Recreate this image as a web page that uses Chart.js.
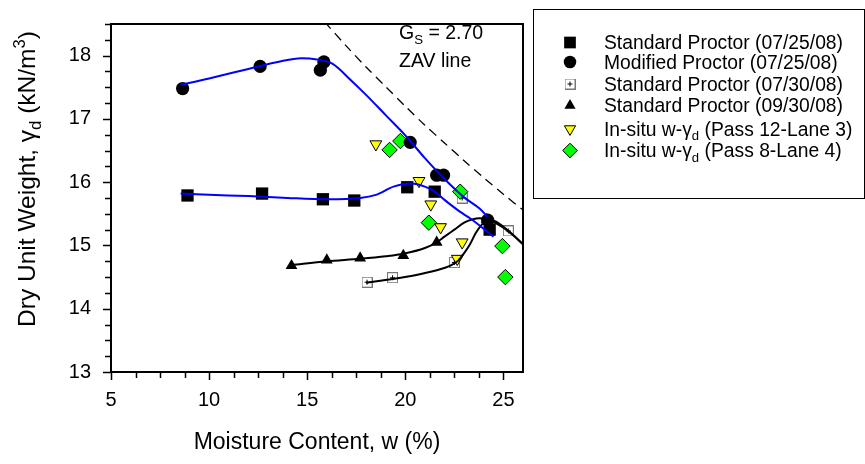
<!DOCTYPE html>
<html>
<head>
<meta charset="utf-8">
<title>Compaction curves</title>
<script src="https://cdn.jsdelivr.net/npm/chart.js@4.4.0/dist/chart.umd.min.js"></script>
<style>
  html, body { margin: 0; padding: 0; background: #fff; }
</style>
</head>
<body>
<canvas id="proctor-chart" width="865" height="464"></canvas>
<script>
// Moisture content w (%) and dry unit weight (kN/m3) for each test
const wStd0725 = [8.9, 12.7, 15.8, 17.4, 20.1, 21.5, 24.3];
const gStd0725 = [15.79, 15.82, 15.73, 15.71, 15.92, 15.85, 15.25];
const wMod0725 = [8.65, 12.6, 15.67, 15.85, 20.25, 21.6, 21.95, 24.2];
const gMod0725 = [17.48, 17.83, 17.77, 17.9, 16.63, 16.11, 16.11, 15.4];
const wStd0730 = [18.05, 19.35, 22.5, 22.9, 25.25];
const gStd0730 = [14.42, 14.49, 14.73, 15.75, 15.23];
const wStd0930 = [14.2, 16.0, 17.7, 19.9, 21.6, 24.15];
const gStd0930 = [14.68, 14.77, 14.8, 14.84, 15.05, 15.41];
const wPass12 = [18.5, 20.7, 21.3, 21.8, 22.9, 22.65];
const gPass12 = [16.6, 16.02, 15.65, 15.29, 15.05, 14.79];
const wPass8 = [19.2, 19.75, 21.2, 22.8, 24.95, 25.1];
const gPass8 = [16.51, 16.65, 15.36, 15.85, 14.99, 14.5];

// Fitted compaction curves
const wFitStd0725 = [8.55, 10, 12, 14, 16, 17.7, 18.5, 19.4, 20.3, 21, 21.5, 22, 22.8, 23.3, 24.5];
const gFitStd0725 = [15.82, 15.8, 15.78, 15.75, 15.73, 15.75, 15.8, 15.93, 15.98, 15.93, 15.85, 15.72, 15.53, 15.43, 15.14];
const wFitMod0725 = [8.55, 10, 12, 13.5, 14.7, 15.5, 16.3, 17.2, 18, 19, 20, 21, 22, 23, 23.8, 24.2];
const gFitMod0725 = [17.54, 17.64, 17.79, 17.9, 17.96, 17.94, 17.87, 17.62, 17.38, 17.06, 16.74, 16.38, 16.05, 15.76, 15.58, 15.45];
const wFitStd0730 = [18.0, 19.35, 20.5, 21.5, 22.3, 22.7, 23.0, 23.3, 23.6, 23.9, 24.2, 24.6, 25.3, 26];
const gFitStd0730 = [14.41, 14.47, 14.53, 14.6, 14.68, 14.76, 14.88, 15.02, 15.2, 15.33, 15.41, 15.38, 15.22, 15.02];
const wFitStd0930 = [14.2, 16, 17.7, 19, 19.9, 21, 21.6, 22, 22.5, 23, 23.4, 23.8, 24.5, 25, 25.5, 26];
const gFitStd0930 = [14.69, 14.75, 14.79, 14.83, 14.87, 14.96, 15.05, 15.14, 15.25, 15.36, 15.41, 15.43, 15.37, 15.28, 15.16, 15.02];

// Zero air voids line, Gs = 2.70
const wZav = [15.9, 17, 18, 19, 20, 21, 22, 23, 24, 25, 26];
const gZav = [18.53, 18.15, 17.82, 17.51, 17.2, 16.9, 16.62, 16.34, 16.07, 15.81, 15.56];

// Axis ticks
const xTicks = [5, 6.25, 7.5, 8.75, 10, 11.25, 12.5, 13.75, 15, 16.25, 17.5, 18.75, 20, 21.25, 22.5, 23.75, 25];
const xLabelled = [5, 10, 15, 20, 25];
const yTicks = [13, 13.25, 13.5, 13.75, 14, 14.25, 14.5, 14.75, 15, 15.25, 15.5, 15.75, 16, 16.25, 16.5, 16.75, 17, 17.25, 17.5, 17.75, 18, 18.25, 18.5];
const yLabelled = [13, 14, 15, 16, 17, 18];

const FONT = "'Liberation Sans', Arial, sans-serif";

const toXY = (xs, ys) => xs.map((x, i) => ({ x: x, y: ys[i] }));

// white square with a small cross, used for the 07/30/08 test
function plusSquare(size) {
    const c = document.createElement('canvas');
    c.width = size;
    c.height = size;
    const g = c.getContext('2d');
    g.fillStyle = '#fff';
    g.fillRect(0, 0, size, size);
    g.strokeStyle = '#777';
    g.lineWidth = 1;
    g.strokeRect(0.5, 0.5, size - 1, size - 1);
    g.strokeStyle = '#000';
    const m = Math.floor(size / 2) + 0.5;
    g.beginPath();
    g.moveTo(m, 3); g.lineTo(m, size - 3);
    g.moveTo(3, m); g.lineTo(size - 3, m);
    g.stroke();
    return c;
}
const plusMark = plusSquare(11);

function markers(label, parts, xs, ys, style, order) {
    return Object.assign({
        type: 'scatter',
        label: label,
        legendParts: parts,
        data: toXY(xs, ys),
        showLine: false,
        order: order
    }, style);
}

function curve(xs, ys, color, order) {
    return {
        type: 'line',
        data: toXY(xs, ys),
        borderColor: color,
        borderWidth: 2,
        pointRadius: 0,
        fill: false,
        cubicInterpolationMode: 'monotone',
        order: order
    };
}

const datasets = [
    markers('Standard Proctor (07/25/08)', [{ t: 'Standard Proctor (07/25/08)' }], wStd0725, gStd0725,
        { pointStyle: 'rect', pointRadius: 8.7, backgroundColor: '#000', borderColor: '#000', borderWidth: 0 }, 5),
    markers('Modified Proctor (07/25/08)', [{ t: 'Modified Proctor (07/25/08)' }], wMod0725, gMod0725,
        { pointStyle: 'circle', pointRadius: 6.6, backgroundColor: '#000', borderColor: '#000', borderWidth: 0 }, 2),
    markers('Standard Proctor (07/30/08)', [{ t: 'Standard Proctor (07/30/08)' }], wStd0730, gStd0730,
        { pointStyle: plusMark, pointRadius: 6 }, 7),
    markers('Standard Proctor (09/30/08)', [{ t: 'Standard Proctor (09/30/08)' }], wStd0930, gStd0930,
        { pointStyle: 'triangle', pointRadius: 6.8, backgroundColor: '#000', borderColor: '#000', borderWidth: 0 }, 6),
    markers('In-situ w-γd (Pass 12-Lane 3)', [{ t: 'In-situ w-γ' }, { t: 'd', sub: true }, { t: ' (Pass 12-Lane 3)' }], wPass12, gPass12,
        { pointStyle: 'triangle', rotation: 180, pointRadius: 6.8, backgroundColor: '#ffff00', borderColor: '#000', borderWidth: 1 }, 3),
    markers('In-situ w-γd (Pass 8-Lane 4)', [{ t: 'In-situ w-γ' }, { t: 'd', sub: true }, { t: ' (Pass 8-Lane 4)' }], wPass8, gPass8,
        { pointStyle: 'rectRot', pointRadius: 7.7, backgroundColor: '#00ff00', borderColor: '#000', borderWidth: 1 }, 4),
    curve(wFitStd0725, gFitStd0725, '#0000ff', 1),
    curve(wFitMod0725, gFitMod0725, '#0000ff', 1),
    curve(wFitStd0730, gFitStd0730, '#000', 1),
    curve(wFitStd0930, gFitStd0930, '#000', 1),
    Object.assign(curve(wZav, gZav, '#000', 1), { borderWidth: 1.3, borderDash: [9, 6], cubicInterpolationMode: 'default', tension: 0.3 })
];

// text with sub/superscript pieces, y is the baseline
function richWidth(ctx, parts, size) {
    let w = 0;
    parts.forEach(p => {
        ctx.font = ((p.sub || p.sup) ? size * 0.68 : size) + 'px ' + FONT;
        w += ctx.measureText(p.t).width;
    });
    return w;
}
function drawRich(ctx, parts, x, y, size) {
    ctx.textAlign = 'left';
    ctx.textBaseline = 'alphabetic';
    parts.forEach(p => {
        const s = (p.sub || p.sup) ? size * 0.68 : size;
        ctx.font = s + 'px ' + FONT;
        const dy = p.sub ? size * 0.25 : (p.sup ? -size * 0.4 : 0);
        ctx.fillText(p.t, x, y + dy);
        x += ctx.measureText(p.t).width;
    });
}

// frame, minor ticks, titles, note and legend box
const decorations = {
    id: 'decorations',
    afterDraw(chart) {
        const ctx = chart.ctx;
        const a = chart.chartArea;
        const xs = chart.scales.x;
        const ys = chart.scales.y;
        ctx.save();
        ctx.strokeStyle = '#000';
        ctx.fillStyle = '#000';

        // ticks, longer at labelled values
        ctx.lineWidth = 1.5;
        ctx.beginPath();
        xTicks.forEach(v => {
            const px = Math.round(xs.getPixelForValue(v)) + 0.5;
            const len = xLabelled.includes(v) ? 8 : 6;
            ctx.moveTo(px, a.bottom);
            ctx.lineTo(px, a.bottom + len);
        });
        yTicks.forEach(v => {
            const py = Math.round(ys.getPixelForValue(v)) + 0.5;
            const len = yLabelled.includes(v) ? 8 : 6;
            ctx.moveTo(a.left, py);
            ctx.lineTo(a.left - len, py);
        });
        ctx.stroke();

        ctx.lineWidth = 2;
        ctx.strokeRect(a.left, a.top, a.right - a.left, a.bottom - a.top);

        // axis titles
        ctx.font = '23px ' + FONT;
        ctx.textAlign = 'center';
        ctx.textBaseline = 'middle';
        ctx.fillText('Moisture Content, w (%)', (a.left + a.right) / 2, 443);

        const yTitle = [{ t: 'Dry Unit Weight, γ' }, { t: 'd', sub: true }, { t: ' (kN/m' }, { t: '3', sup: true }, { t: ')' }];
        ctx.save();
        ctx.translate(35, 179);
        ctx.rotate(-Math.PI / 2);
        drawRich(ctx, yTitle, -richWidth(ctx, yTitle, 24.5) / 2, 0, 24.5);
        ctx.restore();

        // ZAV note
        drawRich(ctx, [{ t: 'G' }, { t: 'S', sub: true }, { t: ' = 2.70' }], 399, 39, 19.5);
        drawRich(ctx, [{ t: 'ZAV line' }], 399, 67, 19.5);

        // legend
        ctx.lineWidth = 1;
        ctx.strokeRect(533.5, 9.5, 331, 189);
        const rowY = [42.5, 62, 84, 105.5, 129, 150.5];
        chart.data.datasets.filter(d => d.legendParts).forEach((d, i) => {
            const y = rowY[i];
            ctx.fillStyle = d.backgroundColor || '#000';
            ctx.strokeStyle = d.borderColor || '#000';
            ctx.lineWidth = d.borderWidth || 0;
            Chart.helpers.drawPoint(ctx, {
                pointStyle: d.pointStyle,
                rotation: d.rotation || 0,
                radius: d.pointStyle === plusMark ? 5 : d.pointRadius * 0.95,
                borderWidth: d.borderWidth || 0
            }, 570, y);
            ctx.fillStyle = '#000';
            drawRich(ctx, d.legendParts, 604, y + 6.5, 19.3);
        });
        ctx.restore();
    }
};

new Chart(document.getElementById('proctor-chart'), {
    data: { datasets: datasets },
    options: {
        responsive: false,
        animation: false,
        layout: { padding: { top: 8, right: 342, bottom: 0, left: 0 } },
        plugins: {
            legend: { display: false },
            tooltip: { enabled: false }
        },
        scales: {
            x: {
                type: 'linear',
                min: 5,
                max: 26,
                afterBuildTicks: s => { s.ticks = xTicks.map(v => ({ value: v })); },
                afterFit: s => { s.height = 92; },
                border: { display: false },
                grid: { drawOnChartArea: false, drawTicks: true, tickLength: 8, tickColor: 'rgba(0,0,0,0)' },
                ticks: {
                    autoSkip: false,
                    maxRotation: 0,
                    padding: 8,
                    color: '#000',
                    font: { family: FONT, size: 20 },
                    callback: v => xLabelled.includes(v) ? String(v) : ''
                }
            },
            y: {
                type: 'linear',
                min: 13,
                max: 18.5,
                afterBuildTicks: s => { s.ticks = yTicks.map(v => ({ value: v })); },
                afterFit: s => { s.width = 111; },
                border: { display: false },
                grid: { drawOnChartArea: false, drawTicks: true, tickLength: 8, tickColor: 'rgba(0,0,0,0)' },
                ticks: {
                    autoSkip: false,
                    padding: 12,
                    color: '#000',
                    font: { family: FONT, size: 20 },
                    callback: v => yLabelled.includes(v) ? String(v) : ''
                }
            }
        }
    },
    plugins: [decorations]
});
</script>
</body>
</html>
